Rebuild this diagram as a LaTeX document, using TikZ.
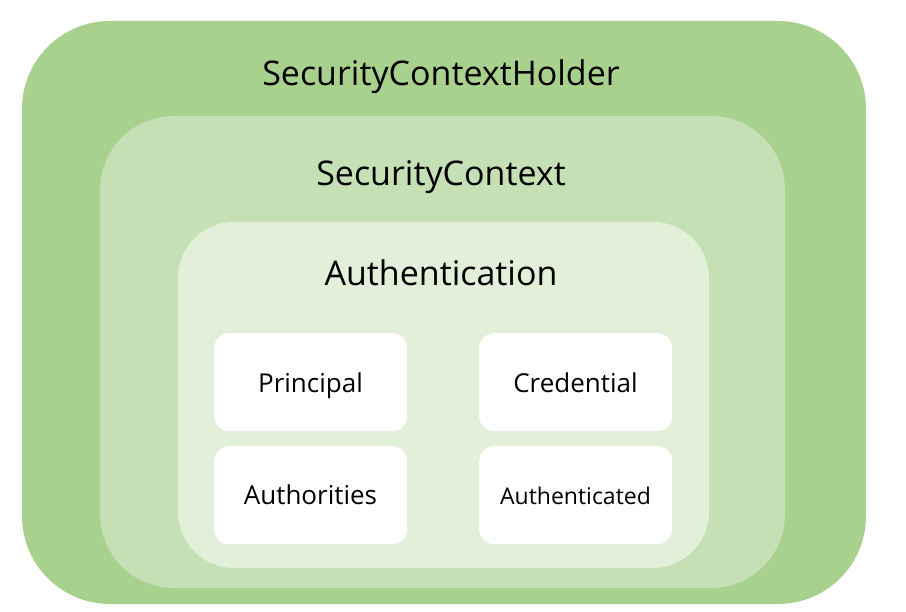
\documentclass[tikz,border=0pt]{standalone}
\usepackage{fontspec}
\setmainfont{Open Sans}
\definecolor{gOuter}{HTML}{A9D18E}
\definecolor{gMid}{HTML}{C5E0B4}
\definecolor{gIn}{HTML}{E2F0D9}
\tikzset{
  region/.style={inner sep=0pt, outer sep=0pt, anchor=north west},
  leaf/.style={fill=white, rounded corners=15pt, inner sep=0pt, anchor=north west,
    minimum width=193pt, minimum height=98pt},
  title/.style={font=\fontsize{34}{40}\selectfont, text=black, anchor=base, inner sep=0pt},
  leaftext/.style={font=\fontsize{26}{30}\selectfont, text=black, anchor=base, inner sep=0pt},
}
\begin{document}
\begin{tikzpicture}[x=1pt,y=-1pt]
\useasboundingbox (0,0) rectangle (906,612);
\node[region, fill=gOuter, rounded corners=88pt, minimum width=844pt, minimum height=583pt] (holder) at (22,21) {};
\node[region, fill=gMid, rounded corners=74pt, minimum width=685pt, minimum height=472pt] (ctx) at (100,116) {};
\node[region, fill=gIn, rounded corners=56pt, minimum width=531pt, minimum height=346pt] (auth) at (178,222) {};
\node[title] (tHolder) at (441,86) {SecurityContextHolder};
\node[title] (tCtx) at (441,186) {SecurityContext};
\node[title] (tAuth) at (441,286) {Authentication};
\node[leaf] (principal) at (214,333) {};
\node[leaf] (credential) at (479,333) {};
\node[leaf] (authorities) at (214,446) {};
\node[leaf] (authenticated) at (479,446) {};
\node[leaftext] (tPrincipal) at (310.5,393) {Principal};
\node[leaftext] (tCredential) at (575.5,393) {Credential};
\node[leaftext] (tAuthorities) at (310.5,505) {Authorities};
\node[leaftext, font=\fontsize{23}{27}\selectfont] (tAuthenticated) at (575.5,504) {Authenticated};
\end{tikzpicture}
\end{document}
